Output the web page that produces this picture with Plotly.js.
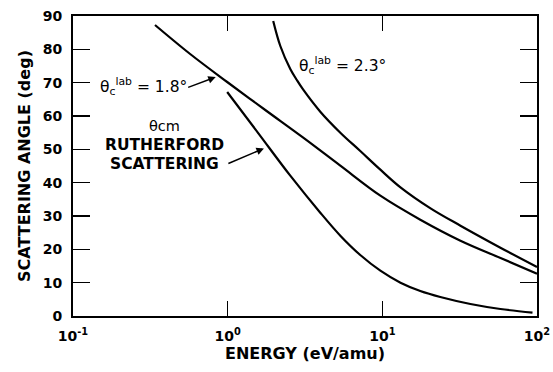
<!DOCTYPE html>
<html>
<head>
<meta charset="utf-8">
<script src="https://cdn.plot.ly/plotly-3.0.1.min.js"></script>
<style>html,body{margin:0;padding:0;background:#fff;}#chart{width:553px;height:372px;}</style>
</head>
<body>
<div id="chart"></div>
<script>
// Curve: theta_c^lab = 1.8 deg
const energyA = [0.339, 0.572, 0.993, 1.75, 3.08, 5.35, 9.71, 17.6, 32.0, 58.1, 100];
const angleA  = [87.3, 78.6, 70.2, 61.8, 53.5, 45.1, 36.1, 28.9, 22.6, 17.4, 12.7];
// Curve: theta_c^lab = 2.3 deg
const energyB = [1.97, 2.19, 2.54, 2.8, 3.08, 3.97, 5.35, 7.2, 9.71, 13.1, 20.5, 32.0, 58.0, 100];
const angleB  = [88.5, 81.0, 74.1, 70.8, 67.9, 61.3, 55.0, 49.5, 43.9, 38.6, 32.3, 27.1, 20.5, 14.7];
// Rutherford scattering (theta cm)
const energyC = [0.993, 1.58, 2.54, 3.97, 5.35, 7.2, 9.71, 13.1, 17.6, 23.7, 37.1, 58.0, 93.5];
const angleC  = [67.2, 54.8, 42.1, 31.0, 24.1, 18.3, 13.6, 10.0, 7.5, 5.7, 3.6, 2.1, 1.0];

const xTickVals = [0.1, 1, 10, 100];
const xTickText = ['10<sup>-1</sup>', '10<sup>0</sup>', '10<sup>1</sup>', '10<sup>2</sup>'];
const yTickVals = [0, 10, 20, 30, 40, 50, 60, 70, 80, 90];

const labelA = 'θ<sub>c</sub><sup>lab</sup> = 1.8°';
const labelB = 'θ<sub>c</sub><sup>lab</sup> = 2.3°';
const labelC = ['θcm', 'RUTHERFORD', 'SCATTERING'];

const FONT = 'DejaVu Sans, Arial, sans-serif';
const lineStyle = {color: '#000', width: 2.2, shape: 'spline', smoothing: 1};

const traces = [
  {x: energyA, y: angleA, mode: 'lines', line: lineStyle, hoverinfo: 'skip'},
  {x: energyB, y: angleB, mode: 'lines', line: lineStyle, hoverinfo: 'skip'},
  {x: energyC, y: angleC, mode: 'lines', line: lineStyle, hoverinfo: 'skip'}
];

const layout = {
  width: 553, height: 372,
  margin: {l: 73, r: 16, t: 16, b: 56},
  paper_bgcolor: '#fff', plot_bgcolor: '#fff',
  showlegend: false,
  font: {family: FONT, color: '#000', size: 14},
  xaxis: {
    type: 'log', range: [-1, 2],
    tickvals: xTickVals, ticktext: xTickText,
    ticks: 'inside', ticklen: 15, tickwidth: 1.5, tickcolor: '#000',
    mirror: 'ticks', showline: true, linewidth: 2, linecolor: '#000',
    showgrid: false, zeroline: false,
    tickfont: {family: FONT, size: 14, weight: 'bold'},
    ticklabelstandoff: 6,
    title: {text: 'ENERGY (eV/amu)', font: {family: FONT, size: 16, weight: 'bold'}, standoff: 2}
  },
  yaxis: {
    range: [0, 90], tickvals: yTickVals,
    ticks: 'inside', ticklen: 17, tickwidth: 1.5, tickcolor: '#000',
    mirror: 'ticks', showline: true, linewidth: 2, linecolor: '#000',
    showgrid: false, zeroline: false,
    tickfont: {family: FONT, size: 14, weight: 'bold'},
    ticklabelstandoff: 6,
    title: {text: 'SCATTERING ANGLE (deg)', font: {family: FONT, size: 16, weight: 'bold'}, standoff: 8}
  },
  annotations: [
    {x: Math.log10(0.285), y: 69, xref: 'x', yref: 'y', text: labelA, showarrow: false,
     xanchor: 'center', yanchor: 'middle', font: {family: FONT, size: 15.5}},
    {x: Math.log10(0.849), y: 71.8, xref: 'x', yref: 'y', text: ' ', showarrow: true,
     arrowhead: 2, arrowsize: 1, arrowwidth: 1.5, arrowcolor: '#000', ax: -32, ay: 12, standoff: 1},
    {x: Math.log10(5.5), y: 75.2, xref: 'x', yref: 'y', text: labelB, showarrow: false,
     xanchor: 'center', yanchor: 'middle', font: {family: FONT, size: 15.5}},
    {x: Math.log10(0.388), y: 56.9, xref: 'x', yref: 'y', text: labelC[0], showarrow: false,
     xanchor: 'center', yanchor: 'middle', height: 16, font: {family: FONT, size: 14.5}},
    {x: Math.log10(0.388), y: 51.3, xref: 'x', yref: 'y', text: labelC[1], showarrow: false,
     xanchor: 'center', yanchor: 'middle', height: 16, font: {family: FONT, size: 15.5, weight: 'bold'}},
    {x: Math.log10(0.388), y: 45.6, xref: 'x', yref: 'y', text: labelC[2], showarrow: false,
     xanchor: 'center', yanchor: 'middle', height: 16, font: {family: FONT, size: 15.5, weight: 'bold'}},
    {x: Math.log10(1.74), y: 50.4, xref: 'x', yref: 'y', text: ' ', showarrow: true,
     arrowhead: 2, arrowsize: 1, arrowwidth: 1.5, arrowcolor: '#000', ax: -40, ay: 17, standoff: 1}
  ]
};

Plotly.newPlot('chart', traces, layout, {staticPlot: true, displayModeBar: false});
</script>
</body>
</html>
